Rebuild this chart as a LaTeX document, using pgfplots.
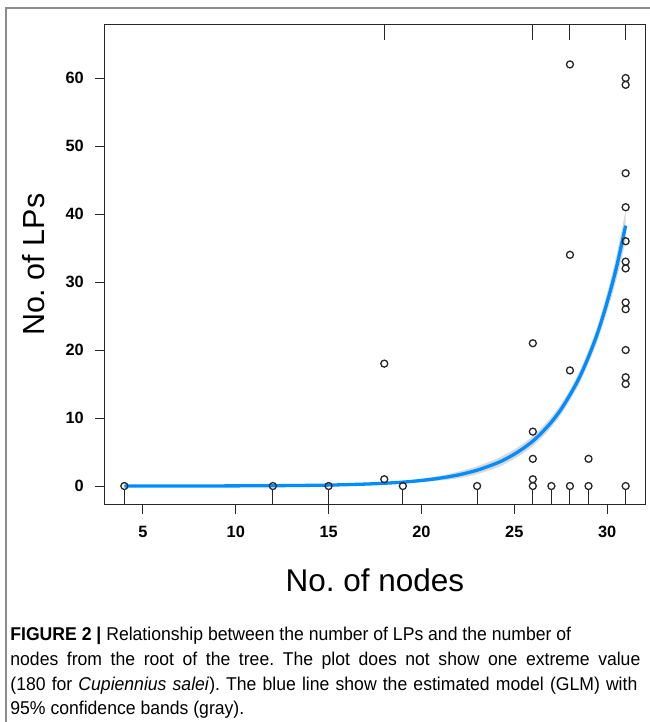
\documentclass[border=0pt]{standalone}
\usepackage{pgfplots}
\pgfplotsset{compat=1.18}
\usepgfplotslibrary{fillbetween}
\usepackage{fontspec}
\setmainfont{Liberation Sans}
\newfontfamily\capfont[FakeStretch=0.95]{Liberation Sans}
\definecolor{fitblue}{HTML}{008DFF}
\definecolor{bandgray}{gray}{0.85}
\definecolor{framegray}{gray}{0.55}
\definecolor{ptgray}{gray}{0.15}
\frenchspacing

\pgfplotstableread{
x y
4 0
12 0
15 0
18 18
18 1
19 0
23 0
26 21
26 8
26 4
26 1
26 0
27 0
28 62
28 34
28 17
28 0
29 4
29 0
31 60
31 59
31 46
31 41
31 36
31 33
31 32
31 27
31 26
31 20
31 16
31 15
31 0
}\pointdata

\pgfplotstableread{
x fit lo up
4 0.00 0.00 0.00
8 0.01 0.007 0.013
12 0.05 0.035 0.065
15 0.14 0.098 0.182
17 0.29 0.203 0.377
18 0.41 0.287 0.533
19 0.57 0.40 0.74
20 0.82 0.57 1.07
21 1.16 0.81 1.51
22 1.64 1.15 2.13
23 2.33 1.75 2.91
24 3.30 2.64 3.96
24.5 3.93 3.24 4.62
25 4.68 3.98 5.38
25.5 5.57 4.85 6.29
26 6.60 5.87 7.33
26.5 7.90 7.15 8.65
27 9.40 8.65 10.15
27.5 11.20 10.42 11.98
28 13.40 12.60 14.20
28.5 15.90 15.03 16.77
29 19.00 18.05 19.95
29.5 22.60 21.47 23.73
30 27.00 25.65 28.35
30.5 32.10 30.33 33.87
31 38.30 36.00 40.60
}\fitdata

\pgfplotstableread{
x y
4 -2.7
4 -0.5
4 nan
12 -2.7
12 -0.5
12 nan
15 -2.7
15 -0.5
15 nan
19 -2.7
19 -0.5
19 nan
23 -2.7
23 -0.5
23 nan
26 -2.7
26 -0.5
26 nan
27 -2.7
27 -0.5
27 nan
28 -2.7
28 -0.5
28 nan
29 -2.7
29 -0.5
29 nan
31 -2.7
31 -0.5
31 nan
18 67.8
18 65.6
18 nan
26 67.8
26 65.6
26 nan
28 67.8
28 65.6
28 nan
31 67.8
31 65.6
}\rugdata

\begin{document}
\begin{tikzpicture}
% figure frame
\draw[framegray, line width=1bp] (3bp,0) -- (3bp,357bp) -- (325bp,357bp);

\begin{axis}[
  at={(52.15bp,108.8bp)}, anchor=south west,
  scale only axis, width=270.7bp, height=239.7bp,
  xmin=2.92, xmax=32.08, ymin=-2.7, ymax=67.8,
  xtick={5,10,...,30}, ytick={0,10,...,60},
  tick align=outside, xtick pos=bottom, ytick pos=left,
  major tick length=4.75bp,
  tick style={black!85, line width=0.5bp},
  axis line style={line width=0.5bp, black!85},
  ticklabel style={font=\fontsize{8.2}{9.5}\selectfont\bfseries},
  xticklabel style={yshift=-2.5bp},
  yticklabel style={xshift=-2bp},
  /pgf/number format/assume math mode=true,
]
\addplot[name path=up, draw=none, smooth] table[x=x, y=up] {\fitdata};
\addplot[name path=lo, draw=none, smooth] table[x=x, y=lo] {\fitdata};
\addplot[bandgray] fill between[of=up and lo];
\addplot[fitblue, line width=1.65bp, smooth] table[x=x, y=fit] {\fitdata};
\addplot[black!85, line width=0.5bp, unbounded coords=jump] table[x=x, y=y] {\rugdata};
\addplot[only marks, mark=o, mark size=1.75bp, mark options={line width=0.65bp, draw=ptgray}] table[x=x, y=y] {\pointdata};
\end{axis}

\node[rotate=90, font=\fontsize{15.3}{18}\selectfont] at (17bp,228.6bp) {No. of LPs};
\node[font=\fontsize{15.8}{18}\selectfont] at (187.5bp,71bp) {No. of nodes};

\begin{scope}[every node/.style={anchor=base west, inner sep=0pt, font=\capfont\fontsize{9.3}{11}\selectfont}]
\node at (5bp,40.5bp) {\textbf{FIGURE 2 |} Relationship between the number of LPs and the number of};
\node at (5bp,28.25bp) {\makebox[315bp][s]{nodes from the root of the tree. The plot does not show one extreme value}};
\node at (5bp,16bp) {\makebox[313.5bp][s]{(180 for \textit{Cupiennius salei}). The blue line show the estimated model (GLM) with}};
\node at (5bp,3.75bp) {95\% confidence bands (gray).};
\end{scope}
\pgfresetboundingbox
\path[use as bounding box] (0,0) rectangle (325bp,361bp);
\end{tikzpicture}
\end{document}
